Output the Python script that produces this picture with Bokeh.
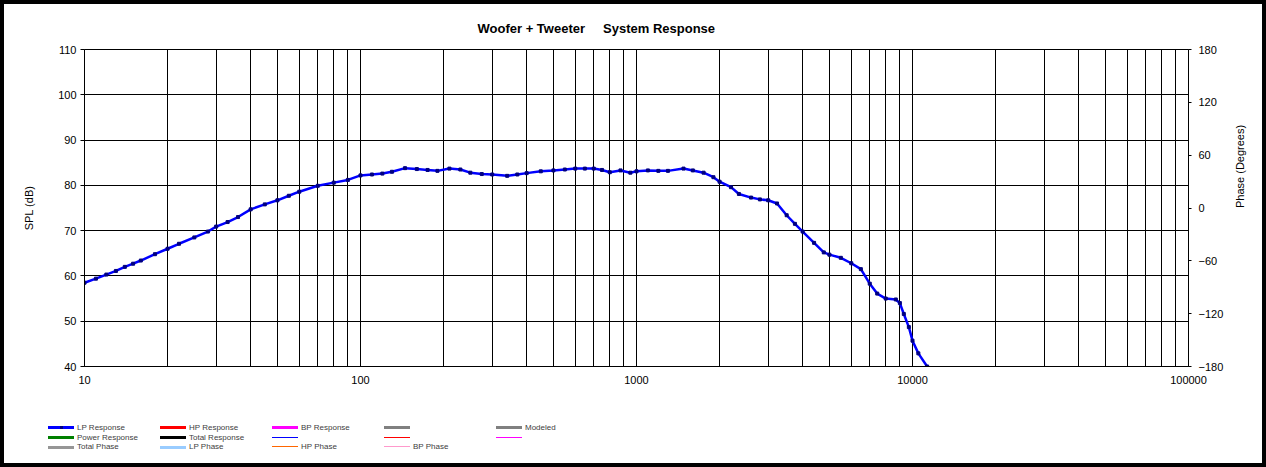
import math
from bokeh.plotting import figure
from bokeh.layouts import column
from bokeh.models import LinearAxis, Range1d, FixedTicker, Div
from bokeh.embed import file_html
from bokeh.resources import INLINE

# ---- data ----
freq = [10, 11, 12, 13, 14, 15, 16, 18, 20, 22, 25, 28, 30, 33, 36, 40, 45, 50, 55, 60,
        70, 80, 90, 100, 110, 120, 130, 145, 160, 175, 190, 210, 230, 250, 275, 300,
        340, 370, 400, 450, 500, 550, 600, 650, 700, 750, 800, 875, 950, 1000, 1100,
        1200, 1300, 1480, 1600, 1750, 1900, 2000, 2200, 2350, 2600, 2800, 3000, 3230,
        3500, 3750, 4000, 4400, 4770, 5000, 5500, 6000, 6500, 7000, 7450, 8000, 8700,
        9000, 9300, 9700, 10000, 10500, 11300]
lp_response = [58.5, 59.4, 60.3, 61.1, 62.0, 62.7, 63.4, 64.8, 66.0, 67.1, 68.5, 69.8,
               70.9, 71.9, 73.0, 74.7, 75.8, 76.7, 77.7, 78.6, 79.9, 80.6, 81.2, 82.2,
               82.4, 82.6, 83.0, 83.8, 83.6, 83.4, 83.2, 83.7, 83.5, 82.8, 82.5, 82.4,
               82.1, 82.4, 82.7, 83.1, 83.3, 83.5, 83.7, 83.7, 83.7, 83.4, 82.9, 83.3,
               82.8, 83.1, 83.3, 83.2, 83.2, 83.7, 83.3, 82.8, 81.8, 80.8, 79.6, 78.1,
               77.3, 76.9, 76.7, 76.0, 73.4, 71.5, 69.8, 67.3, 65.2, 64.7, 64.0, 62.8,
               61.5, 58.3, 56.1, 55.0, 54.8, 54.0, 51.6, 48.7, 45.7, 42.9, 40.0]

x_major = [10, 100, 1000, 10000, 100000]
x_minor = [m * d for d in x_major[:-1] for m in range(2, 10)]
spl_ticks = list(range(40, 111, 10))
phase_ticks = list(range(-180, 181, 60))

title_text = "Woofer + Tweeter\u00a0\u00a0\u00a0\u00a0 System Response"

# legend entries, row by row
legend_labels = [["LP Response", "HP Response", "BP Response", "", "Modeled"],
                 ["Power Response", "Total Response", "", "", ""],
                 ["Total Phase", "LP Phase", "HP Phase", "BP Phase"]]
legend_colors = [["#0000FF", "#FF0000", "#FF00FF", "#808080", "#808080"],
                 ["#008000", "#000000", "#0000FF", "#FF0000", "#FF00FF"],
                 ["#969696", "#99CCFF", "#FF6600", "#FF99CC"]]
legend_widths = [[3, 3, 3, 3, 3],
                 [3, 3, 1, 1, 1],
                 [3, 3, 1, 1]]

FONT = "Liberation Sans"
W, H = 1266, 467
H_MAIN = 400
H_LEG = H - H_MAIN

p = figure(width=W, height=H_MAIN, x_axis_type="log", x_range=(10, 100000),
           y_range=(40, 110), output_backend="svg", toolbar_location=None,
           min_border_left=84, min_border_right=78, min_border_top=49,
           min_border_bottom=H_MAIN - 366)

p.background_fill_color = "white"
p.border_fill_alpha = 0
p.outline_line_color = "black"
p.outline_line_width = 1

# title
p.title.text = title_text
p.title.align = "left"
p.title.offset = 393
p.title.text_font = FONT
p.title.text_font_size = "13px"
p.title.text_font_style = "bold"
p.title.text_color = "black"
p.title.standoff = 27

# grids
p.xgrid.ticker = FixedTicker(ticks=x_major, minor_ticks=x_minor)
p.xgrid.grid_line_color = "black"
p.xgrid.minor_grid_line_color = "black"
p.ygrid.ticker = FixedTicker(ticks=spl_ticks)
p.ygrid.grid_line_color = "black"

# x axis
xa = p.xaxis[0]
xa.ticker = FixedTicker(ticks=x_major, minor_ticks=[])
xa.major_label_overrides = {t: str(t) for t in x_major}
xa.major_tick_out = 0
xa.major_tick_in = 0
xa.minor_tick_out = 0
xa.minor_tick_in = 0
xa.major_label_standoff = 9
xa.axis_line_color = "black"
xa.major_label_text_font = FONT
xa.major_label_text_font_size = "11px"
xa.major_label_text_color = "black"

# left axis
ya = p.yaxis[0]
ya.ticker = FixedTicker(ticks=spl_ticks)
ya.axis_label = "SPL (dB)"
ya.axis_label_text_font = FONT
ya.axis_label_text_font_size = "11px"
ya.axis_label_text_font_style = "normal"
ya.axis_label_text_color = "black"
ya.axis_label_standoff = 20
ya.major_tick_out = 4
ya.major_tick_in = 0
ya.minor_tick_out = 0
ya.minor_tick_in = 0
ya.major_label_standoff = 4
ya.major_label_text_font = FONT
ya.major_label_text_font_size = "11px"
ya.major_label_text_color = "black"
ya.axis_line_color = "black"

# right axis (phase)
p.extra_y_ranges = {"phase": Range1d(-180, 180)}
ra = LinearAxis(y_range_name="phase", ticker=FixedTicker(ticks=phase_ticks))
ra.axis_label = "Phase (Degrees)"
ra.axis_label_orientation = math.pi / 2
ra.axis_label_text_font = FONT
ra.axis_label_text_font_size = "11px"
ra.axis_label_text_font_style = "normal"
ra.axis_label_text_color = "black"
ra.axis_label_standoff = 14
ra.major_tick_out = 3
ra.major_tick_in = 0
ra.minor_tick_out = 0
ra.minor_tick_in = 0
ra.major_label_standoff = 7
ra.major_label_text_font = FONT
ra.major_label_text_font_size = "11px"
ra.major_label_text_color = "black"
ra.axis_line_color = "black"
p.add_layout(ra, "right")

# the response curve
p.line(freq, lp_response, line_color="#0000FF", line_width=2.5)
p.scatter(freq, lp_response, marker="square", size=3,
          fill_color="#000080", line_color="#000080")

# ---- legend strip below the chart ----
COL0, COL_STEP, ROW0, ROW_STEP, SAMPLE = 48, 112, 28, 9.5, 26
parts = []
for r, (labs, cols, wids) in enumerate(zip(legend_labels, legend_colors, legend_widths)):
    yc = ROW0 + r * ROW_STEP
    for c, (lab, colr, wid) in enumerate(zip(labs, cols, wids)):
        x0 = COL0 + c * COL_STEP
        top = int(round(yc - wid / 2))
        parts.append(
            f'<div style="position:absolute;left:{x0}px;top:{top}px;'
            f'width:{SAMPLE}px;height:{wid}px;background-color:{colr}"></div>')
        if lab == "LP Response":
            parts.append(
                f'<div style="position:absolute;left:{x0 + SAMPLE // 2 - 1}px;'
                f'top:{top}px;width:3px;height:3px;background-color:#000080"></div>')
        if lab:
            parts.append(
                f'<div style="position:absolute;left:{x0 + SAMPLE + 3}px;'
                f'top:{int(round(yc)) - 5}px;height:10px;line-height:10px;'
                f'font-family:\'{FONT}\';font-size:8px;'
                f'color:#404040;white-space:nowrap">{lab}</div>')
legend_html = (f'<div style="position:relative;width:{W}px;height:{H_LEG}px;margin:0;'
               f'padding:0">' + "".join(parts) + '</div>')
lg = Div(text=legend_html, width=W, height=H_LEG, margin=0)

layout = column(p, lg, spacing=0)
layout.styles = {"box-shadow": "inset 0 0 0 4px black", "background": "white"}

open("out.html", "w").write(file_html(layout, INLINE))
